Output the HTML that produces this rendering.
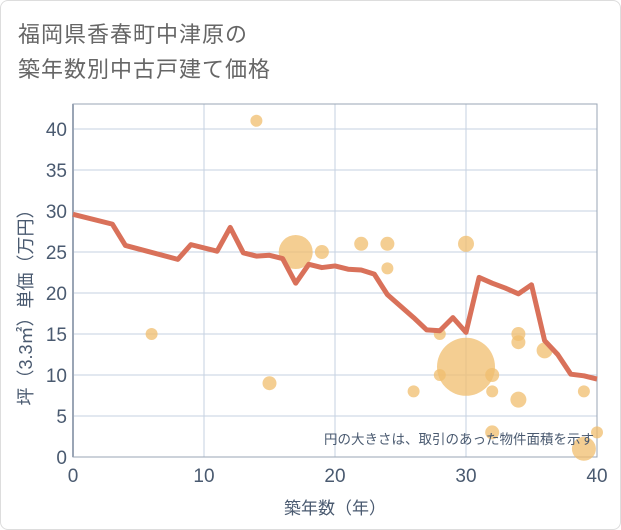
<!DOCTYPE html>
<html><head><meta charset="utf-8"><style>
body{margin:0;background:#fff;}
#wrap{position:relative;width:619px;height:528px;border:1px solid #ddd;border-radius:8px;overflow:hidden;background:#fff;font-family:"Liberation Sans","Noto Sans CJK JP",sans-serif;}
.title{position:absolute;left:17px;font-size:22px;color:#666;letter-spacing:1px;}
</style></head><body>
<div id="wrap">
<div class="title" style="top:16px">福岡県香春町中津原の</div>
<div class="title" style="top:51px">築年数別中古戸建て価格</div>
<svg id="chart" width="621" height="530" style="position:absolute;left:0;top:0"></svg>
</div>
<script>
const xTicks=[0,10,20,30,40];
const yTicks=[0,5,10,15,20,25,30,35,40];
const lineYears=[0,3,4,8,9,11,12,13,14,15,16,17,18,19,20,21,22,23,24,25,26,27,28,29,30,31,32,33,34,35,36,37,38,39,40];
const lineValues=[29.6,28.4,25.8,24.1,25.9,25.1,28.0,24.9,24.5,24.6,24.2,21.2,23.5,23.1,23.3,22.9,22.8,22.3,19.8,18.4,17.0,15.5,15.4,17.0,15.2,21.9,21.2,20.6,19.9,21.0,14.2,12.5,10.1,9.9,9.5];
const bubbleYears=[14,6,15,17,19,22,24,24,26,28,28,30,30,32,32,32,34,34,34,36,39,40,39];
const bubbleValues=[41,15,9,25,25,26,26,23,8,15,10,26,11,10,8,3,15,14,7,13,8,3,1];
const bubbleSizes=[6,6,7,17,7,7,7,6,6,6,6,8,29,7,6,7,7,7,8,8,6,6,12];
const L=72,R=596,T=103,B=456;
const X=v=>L+(v-0)/40*(R-L);
const Y=v=>B-v/40*(B-128);
const svg=document.getElementById('chart');
const NS='http://www.w3.org/2000/svg';
function mk(t,a){const e=document.createElementNS(NS,t);for(const k in a)e.setAttribute(k,a[k]);svg.appendChild(e);return e;}
yTicks.forEach(v=>{
 const l=mk('line',{x1:L,x2:R,y1:Y(v),y2:Y(v),stroke:'#c5d2e2','stroke-width':1});
 
 
 const t=mk('text',{x:L-6,y:Y(v)+7,'text-anchor':'end','font-size':19,fill:'#4a5a70'});
 t.textContent=v;
 
 
});
xTicks.forEach(v=>{
 const l=mk('line',{x1:X(v),x2:X(v),y1:T,y2:B,stroke:'#c5d2e2','stroke-width':1});
 
 
 const t=mk('text',{x:X(v),y:B+25,'text-anchor':'middle','font-size':19,fill:'#4a5a70'});
 t.textContent=v;
 
 
});
const fr=mk('rect',{x:L,y:T,width:R-L,height:B-T,fill:'none',stroke:'#9aa5b5','stroke-width':1});


const yl=mk('line',{x1:L,x2:L,y1:T,y2:B,stroke:'#9aa5b5','stroke-width':2});


bubbleYears.forEach((yr,i)=>{
 const c=mk('circle',{cx:X(yr),cy:Y(bubbleValues[i]),r:bubbleSizes[i],fill:'rgba(240,190,110,0.75)'});
 
 
});
const p=mk('polyline',{points:lineYears.map((yr,i)=>X(yr)+','+Y(lineValues[i])).join(' '),fill:'none',stroke:'#d9715a','stroke-width':5,'stroke-linejoin':'round'});


const note=mk('text',{x:R-3,y:443,'text-anchor':'end','font-size':13.5,fill:'#4a5a70'});
note.textContent='円の大きさは、取引のあった物件面積を示す';


const xt=mk('text',{x:(L+R)/2,y:513,'text-anchor':'middle','font-size':17,fill:'#4a5a70'});
xt.textContent='築年数（年）';


const yt=mk('text',{x:0,y:0,'text-anchor':'middle','font-size':18,fill:'#4a5a70',transform:'translate(31,302) rotate(-90)'});
yt.textContent='坪（3.3㎡）単価（万円）';


</script>
</body></html>
